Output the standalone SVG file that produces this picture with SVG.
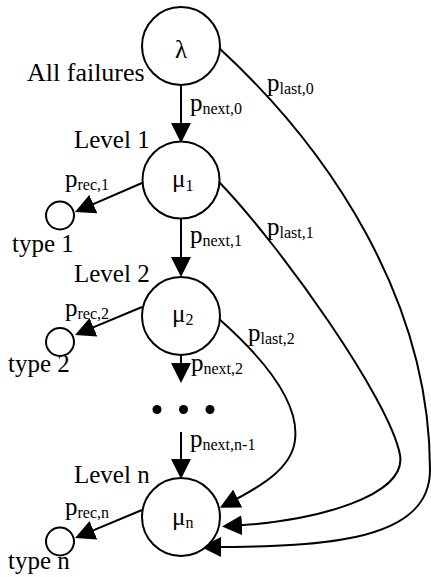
<svg xmlns="http://www.w3.org/2000/svg" width="431" height="577" viewBox="0 0 431 577">
<style>
.n{fill:#fff;stroke:#000;stroke-width:2}
.e{fill:none;stroke:#000;stroke-width:2}
.t{font-family:'Liberation Serif','DejaVu Serif',serif;font-size:25px;fill:#000}
.s{font-size:16px}
</style>
<defs>
<marker id="ah" viewBox="0 0 20 20" refX="12" refY="10" markerWidth="20" markerHeight="20" markerUnits="userSpaceOnUse" orient="auto">
<path d="M0,0 L20,10 L0,20 z" fill="#000"/>
</marker>
</defs>
<rect width="431" height="577" fill="#fff"/>
<g id="connectors">
<line class="e" x1="181" y1="85" x2="181" y2="135" marker-end="url(#ah)"/>
<line class="e" x1="181" y1="219" x2="181" y2="269" marker-end="url(#ah)"/>
<line class="e" x1="181" y1="355" x2="181" y2="375" marker-end="url(#ah)"/>
<line class="e" x1="181" y1="432" x2="181" y2="471" marker-end="url(#ah)"/>
<line class="e" x1="142" y1="183" x2="82.3" y2="208.8" marker-end="url(#ah)"/>
<line class="e" x1="142" y1="307" x2="82.4" y2="331.9" marker-end="url(#ah)"/>
<line class="e" x1="142" y1="510" x2="82.4" y2="534.9" marker-end="url(#ah)"/>
<path class="e" d="M219,48 C330,150 430,300 430,470 C430,540 330,547 209,547" marker-end="url(#ah)"/>
<path class="e" d="M219,182 C280,245 390,400 400,455 C407,495 320,521 230,526" marker-end="url(#ah)"/>
<path class="e" d="M218,318 C260,355 300,400 295,440 C292,468 262,486 227,504" marker-end="url(#ah)"/>
<circle cx="157" cy="409.5" r="4.5" fill="#000"/>
<circle cx="183.5" cy="409.5" r="4.5" fill="#000"/>
<circle cx="210" cy="409.5" r="4.5" fill="#000"/>
<g class="t" font-family="Liberation Serif, DejaVu Serif, serif">
<text x="190" y="111">p<tspan class="s" dy="3">next,0</tspan></text>
<text x="190" y="243">p<tspan class="s" dy="3">next,1</tspan></text>
<text x="191" y="371">p<tspan class="s" dy="3">next,2</tspan></text>
<text x="190" y="447">p<tspan class="s" dy="3">next,n-1</tspan></text>
<text x="267" y="91">p<tspan class="s" dy="3">last,0</tspan></text>
<text x="267" y="235">p<tspan class="s" dy="3">last,1</tspan></text>
<text x="248" y="341">p<tspan class="s" dy="3">last,2</tspan></text>
<text x="65" y="187">p<tspan class="s" dy="3">rec,1</tspan></text>
<text x="65" y="316">p<tspan class="s" dy="3">rec,2</tspan></text>
<text x="65" y="515">p<tspan class="s" dy="3">rec,n</tspan></text>
</g>
</g>
<g id="lambda" class="t" font-family="Liberation Serif, DejaVu Serif, serif">
<circle class="n" cx="181" cy="46" r="39"/>
<text x="181" y="58" text-anchor="middle">λ</text>
<text x="27" y="81" style="font-size:26px">All failures</text>
</g>
<g id="mu1" class="t" font-family="Liberation Serif, DejaVu Serif, serif">
<circle class="n" cx="181" cy="180" r="38.5"/>
<text x="172" y="187">μ<tspan class="s" dy="4">1</tspan></text>
<text x="74" y="148">Level 1</text>
</g>
<g id="mu2" class="t" font-family="Liberation Serif, DejaVu Serif, serif">
<circle class="n" cx="181" cy="316" r="39"/>
<text x="172" y="322">μ<tspan class="s" dy="3">2</tspan></text>
<text x="74" y="282">Level 2</text>
</g>
<g id="mun" class="t" font-family="Liberation Serif, DejaVu Serif, serif">
<circle class="n" cx="181" cy="517" r="39"/>
<text x="172" y="525">μ<tspan class="s" dy="3">n</tspan></text>
<text x="74" y="483">Level n</text>
</g>
<g id="type1" class="t" font-family="Liberation Serif, DejaVu Serif, serif">
<circle class="n" cx="60" cy="215.5" r="14"/>
<text x="12" y="252">type 1</text>
</g>
<g id="type2" class="t" font-family="Liberation Serif, DejaVu Serif, serif">
<circle class="n" cx="60" cy="342" r="14"/>
<text x="8" y="372">type 2</text>
</g>
<g id="typen" class="t" font-family="Liberation Serif, DejaVu Serif, serif">
<circle class="n" cx="60" cy="541.5" r="14"/>
<text x="8" y="569">type n</text>
</g>
</svg>
